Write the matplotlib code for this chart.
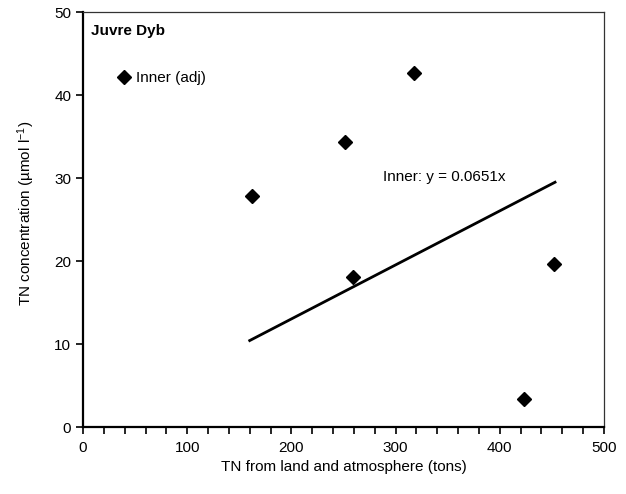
import matplotlib
matplotlib.use("Agg")
import matplotlib.pyplot as plt
import numpy as np
from matplotlib.ticker import MultipleLocator

plt.rcParams['font.family'] = ['Liberation Sans', 'DejaVu Sans']
plt.rcParams['mathtext.fontset'] = 'custom'
plt.rcParams['mathtext.rm'] = 'Liberation Sans'
plt.rcParams['mathtext.it'] = 'Liberation Sans:italic'

# Data
tn_load = [162, 251, 259, 318, 423, 452]
tn_conc = [27.8, 34.3, 18.1, 42.6, 3.4, 19.6]
slope = 0.0651
fit_x = [160, 453]
series_label = "Inner (adj)"
panel_title = "Juvre Dyb"
eq_label = "Inner: y = 0.0651x"

fig = plt.figure(figsize=(6.26, 4.94), dpi=100)
L, R, T, B = 83, 604, 12, 427
ax = fig.add_axes([L/626, 1-B/494, (R-L)/626, (B-T)/494])

ax.plot(tn_load, tn_conc, linestyle='none', marker='D', markersize=7.5,
        color='black', label=series_label)
fx = np.array(fit_x, dtype=float)
ax.plot(fx, slope*fx, color='black', linewidth=2)

ax.set_xlim(0, 500)
ax.set_ylim(0, 50)
ax.xaxis.set_major_locator(MultipleLocator(100))
ax.xaxis.set_minor_locator(MultipleLocator(20))
ax.yaxis.set_major_locator(MultipleLocator(10))
ax.tick_params(axis='both', which='major', direction='out', length=5, width=1.2,
               labelsize=11, colors='black')
ax.tick_params(axis='x', which='minor', direction='out', length=5, width=1.2)
ax.tick_params(axis='x', which='major', pad=5)

for s in ['left', 'bottom']:
    ax.spines[s].set_linewidth(1.6)
for s in ['top', 'right']:
    ax.spines[s].set_linewidth(0.9)
    ax.spines[s].set_color('#333333')

ax.set_xlabel("TN from land and atmosphere (tons)", fontsize=11, labelpad=4)
ax.set_ylabel("TN concentration (µmol l$^{-1}$)", fontsize=11)
ax.yaxis.set_label_coords(-0.088, 0.515)

ax.text(0.015, 0.972, panel_title, transform=ax.transAxes, fontsize=11,
        fontweight='bold', va='top', ha='left')
ax.text(288, 30.1, eq_label, fontsize=11, va='center', ha='left')

leg = ax.legend(loc='upper left', bbox_to_anchor=(0.052, 0.872), frameon=False,
                fontsize=11, handletextpad=0.3, handlelength=1.0, borderaxespad=0)

fig.savefig("out.png", dpi=100)
